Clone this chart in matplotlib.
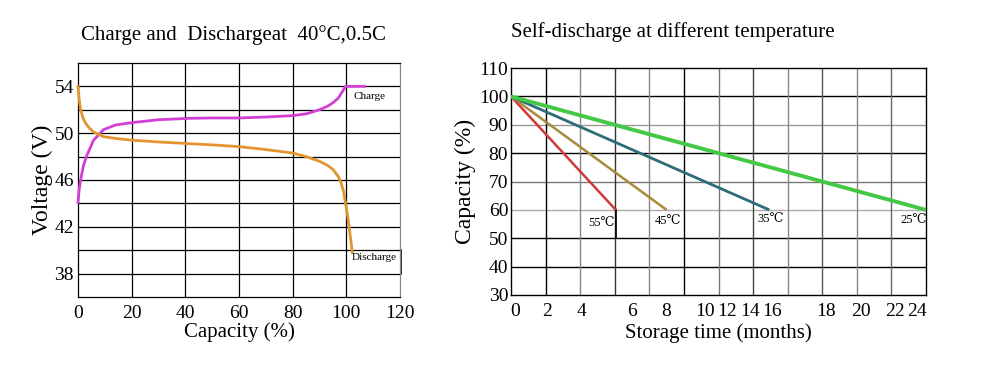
import numpy as np
import matplotlib
matplotlib.use("Agg")
import matplotlib.pyplot as plt

plt.rcParams['font.family'] = ['Liberation Serif', 'DejaVu Serif']

# left chart: charge / discharge at 40C, 0.5C
charge_cap = [0, 0.4, 0.9, 2, 3.3, 5.8, 9.5, 14, 20, 30, 41.7, 50, 60, 70, 80, 85, 90, 93, 95, 97, 98.1, 99.2, 99.7, 103, 106.8]
charge_v = [44.1, 45.1, 45.9, 47.2, 48.1, 49.4, 50.3, 50.7, 50.9, 51.15, 51.27, 51.3, 51.3, 51.38, 51.5, 51.65, 52.0, 52.3, 52.6, 53.0, 53.4, 53.8, 54.0, 54.0, 54.0]
discharge_cap = [0, 0.4, 0.9, 1.7, 2.7, 4, 5.8, 9.5, 14, 20, 30, 41.7, 50, 60, 70, 80, 85, 90, 93, 95, 97, 98.1, 99, 99.7, 100.5, 101.2, 101.8, 102.2]
discharge_v = [54.0, 53.0, 52.1, 51.4, 50.9, 50.5, 50.1, 49.7, 49.55, 49.4, 49.25, 49.1, 49.0, 48.85, 48.6, 48.3, 48.0, 47.6, 47.25, 46.9, 46.3, 45.7, 45.0, 44.0, 42.9, 41.7, 40.6, 39.8]

# right chart: self-discharge (x in grid columns of the original drawing)
temps = ['55℃', '45℃', '35℃', '25℃']
start_cap = 100
end_cap = 60
end_col = [3.03, 4.5, 7.47, 12.0]
line_colors = ['#d2393a', '#a88a3a', '#2d6c78', '#45c845']
line_widths = [1.8, 1.8, 2.0, 2.8]
month_labels = ['0', '2', '4', '6', '8', '10', '12', '14', '16', '18', '20', '22', '24']
month_label_col = [0.12, 1.03, 2.03, 3.51, 4.5, 5.61, 6.26, 6.9, 7.54, 9.1, 10.12, 11.11, 11.74]
label_pos = [(2.62, 55.3), (4.55, 56.2), (7.52, 56.7), (11.64, 56.5)]

fig = plt.figure(figsize=(10, 3.66), dpi=100)

# ---------- left ----------
ax1 = fig.add_axes([0.078, 0.1885, 0.322, 0.6395])
ax1.set_xlim(0, 120)
ax1.set_ylim(36, 56)
for v in np.arange(38, 56, 2):
    ax1.axhline(v, color='black', lw=0.9, zorder=1)
for c in np.arange(20, 120, 20):
    ax1.axvline(c, color='black', lw=0.9, zorder=1)
ax1.plot(charge_cap, charge_v, color='#d23fd6', lw=2.0, zorder=3, clip_on=False)
ax1.plot(discharge_cap, discharge_v, color='#e2952e', lw=2.0, zorder=3, clip_on=False)
ax1.text(102.6, 53.1, 'Charge', fontsize=8, va='center', ha='left')
ax1.text(102.0, 39.35, 'Discharge', fontsize=8, va='center', ha='left')
ax1.plot([120.4, 120.4], [38, 40], color='black', lw=1.2, clip_on=False)
ax1.set_xticks([0, 20, 40, 60, 80, 100, 120])
ax1.set_yticks([38, 42, 46, 50, 54])
ax1.tick_params(length=0, labelsize=14, pad=6)
ax1.tick_params(axis='y', pad=3)
for s in ax1.spines.values():
    s.set_linewidth(0.9)
ax1.spines['right'].set_color('#888888')
ax1.set_xlabel('Capacity (%)', fontsize=15, labelpad=0)
ax1.set_ylabel('Voltage (V)', fontsize=17, labelpad=1)
fig.text(0.233, 0.905, 'Charge and  Dischargeat  40°C,0.5C', fontsize=15, ha='center', va='center')

# ---------- right ----------
ax2 = fig.add_axes([0.511, 0.194, 0.415, 0.620])
ax2.set_xlim(0, 12)
ax2.set_ylim(30, 110)
h_colors = {100: 'black', 90: '#999999', 80: 'black', 70: '#777777', 60: '#aaaaaa', 50: 'black', 40: 'black'}
for v, col in h_colors.items():
    ax2.axhline(v, color=col, lw=1.0, zorder=1)
v_colors = ['black', '#888888', '#333333', '#888888', 'black', '#777777', '#444444',
            '#888888', '#555555', '#888888', '#666666']
for i, col in enumerate(v_colors):
    ax2.axvline(i + 1, color=col, lw=1.0, zorder=1)
for name, ec, col, lw in zip(temps, end_col, line_colors, line_widths):
    ax2.plot([0, ec], [start_cap, end_cap], color=col, lw=lw, zorder=3, solid_capstyle='butt')
ax2.plot([end_col[0], end_col[0]], [end_cap, 50], color='black', lw=1.2, zorder=2)
for name, (lx, ly) in zip(temps, label_pos):
    ax2.text(lx, ly, name, fontsize=9, ha='center', va='center')
ax2.set_xticks(month_label_col)
ax2.set_xticklabels(month_labels)
ax2.set_yticks(np.arange(30, 111, 10))
ax2.tick_params(length=0, labelsize=14)
ax2.tick_params(axis='x', pad=6)
ax2.tick_params(axis='y', pad=2)
for s in ax2.spines.values():
    s.set_linewidth(1.0)
ax2.set_xlabel('Storage time (months)', fontsize=15, labelpad=2)
ax2.set_ylabel('Capacity (%)', fontsize=17, labelpad=2)
fig.text(0.511, 0.912, 'Self-discharge at different temperature', fontsize=15, ha='left', va='center')

fig.savefig('out.png', dpi=100)
